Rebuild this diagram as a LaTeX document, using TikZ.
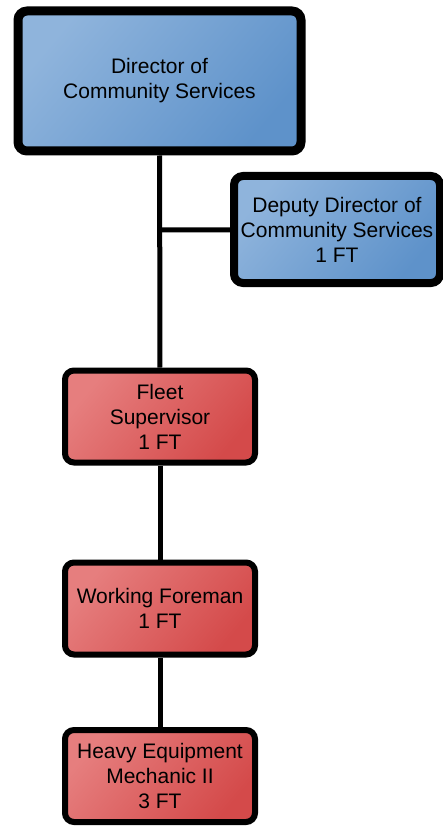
\documentclass[tikz,border=0pt]{standalone}
\usepackage{fontspec}
\setmainfont{Liberation Sans}
\usepackage{xcolor}
\usetikzlibrary{positioning}

\definecolor{blueLight}{HTML}{8FB4DC}
\definecolor{blueDark}{HTML}{5E92CA}
\definecolor{redLight}{HTML}{E67E7E}
\definecolor{redDark}{HTML}{D44A4A}

\begin{document}
\begin{tikzpicture}[
    x=1pt, y=-1pt,
    post/.style={rectangle, draw=black, rounded corners=9pt, align=center, font=\fontsize{21}{25}\selectfont},
    mgr/.style={post, line width=9pt, top color=blueLight, bottom color=blueDark, shading angle=50},
    staff/.style={post, line width=6pt, top color=redLight, bottom color=redDark, shading angle=50, minimum width=190pt, minimum height=92pt},
    link/.style={line width=5pt}
]
\useasboundingbox (0,0) rectangle (443,826);

% Director
\node[mgr, minimum width=283pt, minimum height=140pt] (director) at (159.5,81) {Director of\\Community Services};

% Deputy
\node[mgr, line width=8pt, minimum width=206pt, minimum height=107pt] (deputy) at (337,229.5) {Deputy Director of\\Community Services\\1 FT};

% Fleet
\node[staff] (fleet) at (160,416.5) {Fleet\\Supervisor\\1 FT};
\node[staff] (foreman) at (160,608.5) {Working Foreman\\1 FT};
\node[staff] (mechanic) at (160,776) {Heavy Equipment\\Mechanic II\\3 FT};

% Lines
\coordinate (junction) at (160,230);
\draw[link] (director) -- (fleet);
\draw[link] (junction) -- (deputy);
\draw[link] (fleet) -- (foreman);
\draw[link] (foreman) -- (mechanic);

\end{tikzpicture}
\end{document}
